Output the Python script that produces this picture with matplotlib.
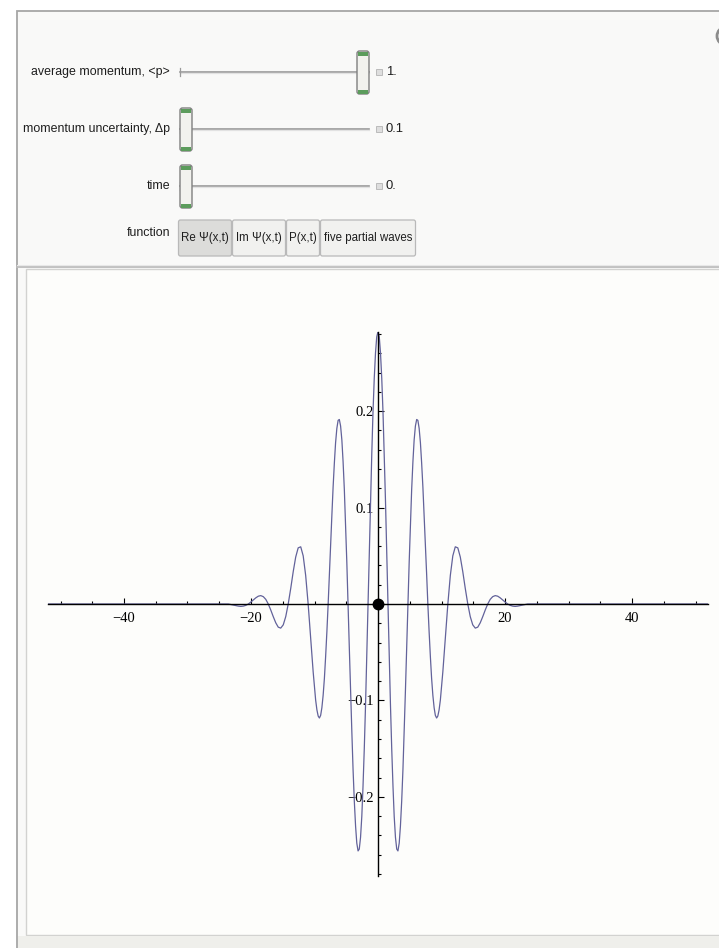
import matplotlib.pyplot as plt
from matplotlib.patches import Rectangle, FancyBboxPatch, Circle
from matplotlib.ticker import FixedLocator, MultipleLocator

# Re Psi(x,t) (denser samples through the tall central lobes)
x_vals = [-52.0,
          -23.56, -23.17, -22.78, -22.38, -21.99, -21.60, -21.21, -20.81, -20.42, -20.03,
          -19.63, -19.24, -18.85, -18.46, -18.06, -17.67, -17.28, -16.89, -16.49, -16.10,
          -15.71, -15.32, -14.92, -14.53, -14.14, -13.74, -13.35, -12.96, -12.57, -12.17,
          -11.78, -11.39, -11.00, -10.60, -10.21,
          -9.82, -9.62, -9.42, -9.23, -9.03, -8.84, -8.64, -8.44, -8.25, -8.05,
          -7.85, -7.66, -7.46, -7.26, -7.07, -6.87, -6.68, -6.48, -6.28, -6.09,
          -5.89, -5.69, -5.50, -5.30, -5.11, -4.91, -4.71, -4.52, -4.32, -4.12,
          -3.93, -3.73, -3.53, -3.34, -3.14, -2.95, -2.75, -2.55, -2.36, -2.16,
          -1.96, -1.77, -1.57, -1.37, -1.18, -0.98, -0.79, -0.59, -0.39, -0.20,
          0.00,
          0.20, 0.39, 0.59, 0.79, 0.98, 1.18, 1.37, 1.57, 1.77, 1.96,
          2.16, 2.36, 2.55, 2.75, 2.95, 3.14, 3.34, 3.53, 3.73, 3.93,
          4.12, 4.32, 4.52, 4.71, 4.91, 5.11, 5.30, 5.50, 5.69, 5.89,
          6.09, 6.28, 6.48, 6.68, 6.87, 7.07, 7.26, 7.46, 7.66, 7.85,
          8.05, 8.25, 8.44, 8.64, 8.84, 9.03, 9.23, 9.42, 9.62, 9.82,
          10.21, 10.60, 11.00, 11.39, 11.78,
          12.17, 12.57, 12.96, 13.35, 13.74, 14.14, 14.53, 14.92, 15.32, 15.71,
          16.10, 16.49, 16.89, 17.28, 17.67, 18.06, 18.46, 18.85, 19.24, 19.63,
          20.03, 20.42, 20.81, 21.21, 21.60, 21.99, 22.38, 22.78, 23.17, 23.56,
          52.0]
re_psi = [0.0,
          0.0, -0.0005, -0.0011, -0.0017, -0.0022, -0.0025, -0.0022, -0.0014, 0.0, 0.0020,
          0.0042, 0.0064, 0.0081, 0.0087, 0.0076, 0.0048, 0.0, -0.0062, -0.0132, -0.0195,
          -0.0240, -0.0250, -0.0216, -0.0131, 0.0, 0.0163, 0.0336, 0.0487, 0.0582, 0.0593,
          0.0499, 0.0296, 0.0, -0.0351, -0.0704,
          -0.0996, -0.1098, -0.1162, -0.1182, -0.1154, -0.1076, -0.0947, -0.0769, -0.0548, -0.0288,
          0.0, 0.0307, 0.0620, 0.0926, 0.1212, 0.1465, 0.1672, 0.1821, 0.1904, 0.1913,
          0.1845, 0.1699, 0.1477, 0.1185, 0.0833, 0.0433, 0.0, -0.0449, -0.0897, -0.1324,
          -0.1712, -0.2044, -0.2304, -0.2479, -0.2560, -0.2541, -0.2420, -0.2201, -0.1890, -0.1498,
          -0.1040, -0.0534, 0.0, 0.0541, 0.1066, 0.1555, 0.1985, 0.2341, 0.2606, 0.2770,
          0.2825,
          0.2770, 0.2606, 0.2341, 0.1985, 0.1555, 0.1066, 0.0541, 0.0, -0.0534, -0.1040,
          -0.1498, -0.1890, -0.2201, -0.2420, -0.2541, -0.2560, -0.2479, -0.2304, -0.2044, -0.1712,
          -0.1324, -0.0897, -0.0449, 0.0, 0.0433, 0.0833, 0.1185, 0.1477, 0.1699, 0.1845,
          0.1913, 0.1904, 0.1821, 0.1672, 0.1465, 0.1212, 0.0926, 0.0620, 0.0307, 0.0,
          -0.0288, -0.0548, -0.0769, -0.0947, -0.1076, -0.1154, -0.1182, -0.1162, -0.1098, -0.0996,
          -0.0704, -0.0351, 0.0, 0.0296, 0.0499,
          0.0593, 0.0582, 0.0487, 0.0336, 0.0163, 0.0, -0.0131, -0.0216, -0.0250, -0.0240,
          -0.0195, -0.0132, -0.0062, 0.0, 0.0048, 0.0076, 0.0087, 0.0081, 0.0064, 0.0042,
          0.0020, 0.0, -0.0014, -0.0022, -0.0025, -0.0022, -0.0017, -0.0011, -0.0005, 0.0,
          0.0]
origin_pt = [0.0, 0.0]

x_major = [-40, -20, 20, 40]
y_major = [-0.2, -0.1, 0.1, 0.2]

# Manipulate controls
slider_labels = ["average momentum, <p>", "momentum uncertainty, \u0394p", "time"]
slider_values = ["1.", "0.1", "0."]
slider_frac = [1.0, 0.0, 0.0]
buttons = ["Re \u03a8(x,t)", "Im \u03a8(x,t)", "P(x,t)", "five partial waves"]
button_edges = [178, 232, 286, 320, 416]

ui_font = ['Liberation Sans', 'DejaVu Sans']
txt = '#1e1e1e'

fig = plt.figure(figsize=(7.19, 9.48), dpi=100)
ui = fig.add_axes([0, 0, 1, 1])
ui.set_xlim(0, 719)
ui.set_ylim(948, 0)
ui.axis('off')

# panel frame
ui.add_patch(Rectangle((17, 11), 760, 980, facecolor='#f9f9f8', edgecolor='#a6a6a6', lw=1.3))
ui.plot([17, 719], [267, 267], color='#bdbdbd', lw=1.3)
ui.plot([17, 719], [265, 265], color='#e8e8e8', lw=0.8)
ui.add_patch(Rectangle((26, 269), 760, 666, facecolor='#fdfdfb', edgecolor='#d2d2d0', lw=1.0))
ui.add_patch(Rectangle((18, 936), 760, 14, facecolor='#efefeb', edgecolor='none'))
ui.add_patch(Circle((726, 36), 9, facecolor='none', edgecolor='#8c8c8c', lw=2))

# sliders
track_x0, track_x1 = 180, 369
row_y = [72, 129, 186]
for label, val, frac, y in zip(slider_labels, slider_values, slider_frac, row_y):
    ui.text(170, y, label, ha='right', va='center', fontsize=8.9,
            family=ui_font, color=txt)
    thumb_x = track_x0 + frac * (track_x1 - track_x0 - 12)
    ui.plot([track_x0, track_x1], [y - 0.5, y - 0.5], color='#9a9a9a', lw=1.2, zorder=2)
    ui.plot([track_x0, track_x1], [y + 1, y + 1], color='#e2e2e2', lw=0.9, zorder=2)
    ui.plot([track_x0, track_x0], [y - 4, y + 4], color='#9a9a9a', lw=0.9, zorder=2)
    ui.add_patch(FancyBboxPatch((thumb_x, y - 21), 12, 43,
                                boxstyle='round,pad=0,rounding_size=2.5',
                                facecolor='#f2f2ee', edgecolor='#7f7f7f', lw=1.0, zorder=3))
    ui.add_patch(Rectangle((thumb_x + 1, y - 20.5), 10, 4.5, facecolor='#5c9c5c',
                           edgecolor='none', zorder=4))
    ui.add_patch(Rectangle((thumb_x + 1, y + 17.5), 10, 4.5, facecolor='#5c9c5c',
                           edgecolor='none', zorder=4))
    ui.add_patch(Rectangle((376, y - 3), 6, 6, facecolor='#dedede', edgecolor='#b4b4b4',
                           lw=0.6, zorder=3))
    ui.text(386, y, val, ha='left', va='center', fontsize=9.4,
            family=ui_font, color=txt)

# function buttons
ui.text(170, 233, "function", ha='right', va='center', fontsize=8.9,
        family=ui_font, color=txt)
for i, name in enumerate(buttons):
    x0, x1 = button_edges[i], button_edges[i + 1]
    face = '#dcdcda' if i == 0 else '#f1f1ef'
    ui.add_patch(FancyBboxPatch((x0 + 0.5, 220), x1 - x0 - 1, 36,
                                boxstyle='round,pad=0,rounding_size=2',
                                facecolor=face, edgecolor='#b9b9b9', lw=0.9))
    ui.text((x0 + x1) / 2, 238, name, ha='center', va='center', fontsize=8.3,
            family=ui_font, color=txt)

# plot
ax = fig.add_axes([47.8 / 719, 72 / 948, 660.4 / 719, 544 / 948])
ax.set_facecolor('none')
ax.plot(x_vals, re_psi, color='#62629a', lw=0.9, zorder=2)
ax.plot([origin_pt[0]], [origin_pt[1]], 'o', color='black', ms=7.5, zorder=5, clip_on=False)
ax.set_xlim(-52, 52)
ax.set_ylim(-0.282, 0.282)

for s in ['top', 'right']:
    ax.spines[s].set_visible(False)
ax.spines['left'].set_position(('data', 0))
ax.spines['bottom'].set_position(('data', 0))
for s in ['left', 'bottom']:
    ax.spines[s].set_linewidth(1.0)
    ax.spines[s].set_zorder(3)

ax.xaxis.set_major_locator(FixedLocator(x_major))
ax.xaxis.set_minor_locator(MultipleLocator(5))
ax.yaxis.set_major_locator(FixedLocator(y_major))
ax.yaxis.set_minor_locator(MultipleLocator(0.02))
ax.tick_params(which='both', direction='in', width=0.8, colors='black')
ax.tick_params(which='major', length=4.5)
ax.tick_params(which='minor', length=2.4)
ax.tick_params(axis='x', which='major', pad=6)
ax.tick_params(axis='y', which='major', pad=3)
for lab in ax.get_xticklabels() + ax.get_yticklabels():
    lab.set_family('Liberation Serif')
    lab.set_fontsize(10.5)

fig.savefig('out.png', dpi=100)
